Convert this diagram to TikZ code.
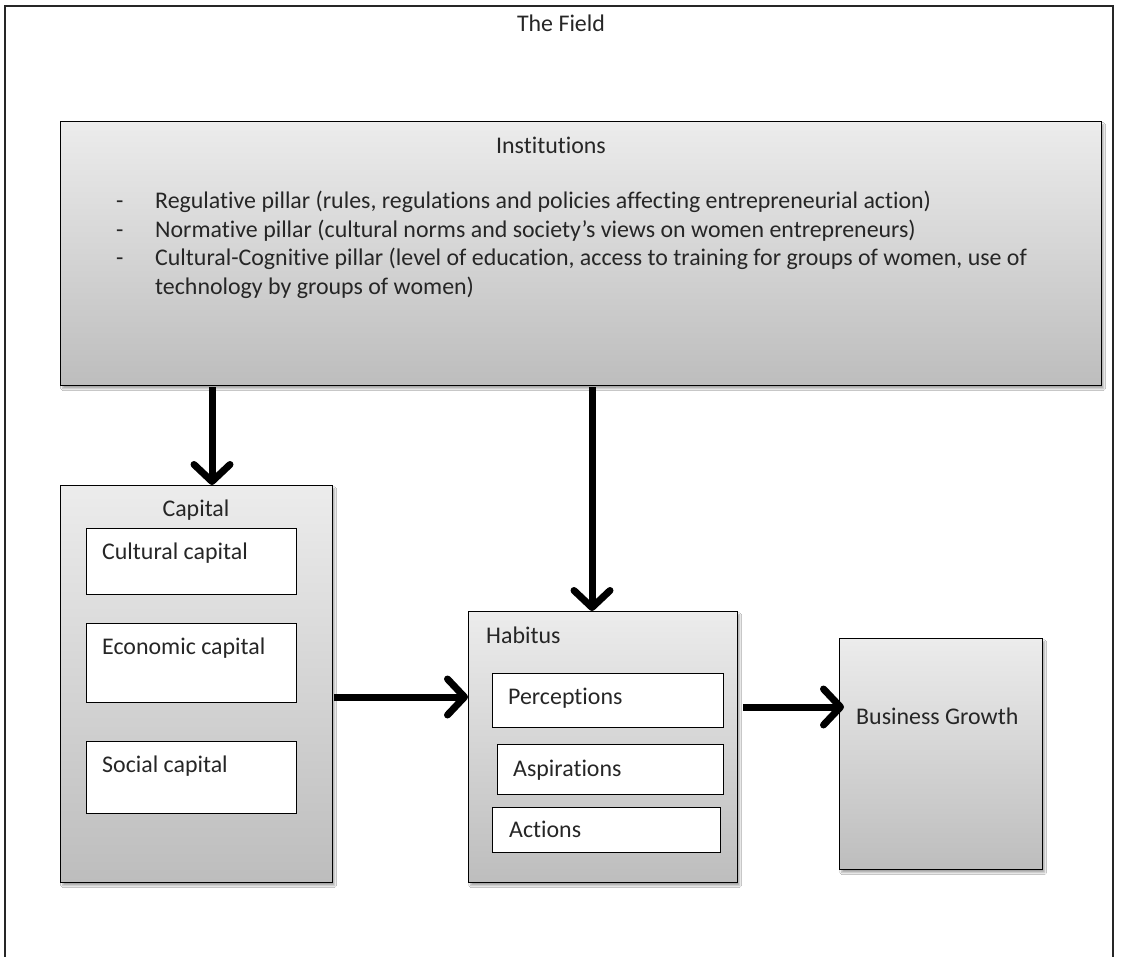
\documentclass[tikz,border=0pt]{standalone}
\usepackage{fontspec}
\setmainfont{Carlito}[Ligatures=NoCommon]
\usetikzlibrary{arrows.meta,shadows.blur}
\definecolor{ink}{HTML}{262626}
\definecolor{shadetop}{HTML}{ECECEC}
\definecolor{shadebot}{HTML}{BDBDBD}
\tikzset{
  panel/.style={draw=black, line width=1.3pt, top color=shadetop, bottom color=shadebot,
    anchor=north west, inner sep=0pt,
    blur shadow={shadow xshift=2pt, shadow yshift=-3pt, shadow opacity=35, shadow blur steps=6}},
  itembox/.style={draw=black, line width=1pt, fill=white, anchor=north west, inner sep=0pt},
  label/.style={font=\fontsize{23.9}{28.5}\selectfont, text=ink, inner sep=0pt},
  flow/.style={line width=7pt, draw=black,
    -{Straight Barb[length=17pt, width=36pt, line cap=round, line join=round]}},
  frame/.style={line width=1.6pt, draw=black!85}
}
\begin{document}
\begin{tikzpicture}[x=1pt, y=-1pt]
  \useasboundingbox (0,0) rectangle (1121,957);
  \clip (0,0) rectangle (1121,957);
  \fill[white] (0,0) rectangle (1121,957);

  % outer field frame, open at the bottom edge
  \draw[frame] (5,980) -- (5,6) -- (1113,6) -- (1113,980);
  \node[label, anchor=base] (field) at (561,32) {The Field};

  % institutions panel
  \node[panel, minimum width=1041pt, minimum height=264pt] (inst) at (60,121) {};
  \node[label, anchor=base] (insttitle) at (551,153.5) {Institutions};
  \node[label, anchor=base west] (d1) at (116,209) {-};
  \node[label, anchor=base west] (p1) at (155,209) {Regulative pillar (rules, regulations and policies affecting entrepreneurial action)};
  \node[label, anchor=base west] (d2) at (116,237.5) {-};
  \node[label, anchor=base west] (p2) at (155,237.5) {Normative pillar (cultural norms and society’s views on women entrepreneurs)};
  \node[label, anchor=base west] (d3) at (116,266) {-};
  \node[label, anchor=base west] (p3) at (155,266) {Cultural-Cognitive pillar (level of education, access to training for groups of women, use of};
  \node[label, anchor=base west] (p3b) at (155,294.5) {technology by groups of women)};

  % capital panel
  \node[panel, minimum width=272pt, minimum height=397pt] (cap) at (60,485) {};
  \node[label, anchor=base] (captitle) at (196,516) {Capital};
  \node[itembox, minimum width=210pt, minimum height=66pt] (cult) at (86,528) {};
  \node[label, anchor=base west] (culttxt) at (102,559) {Cultural capital};
  \node[itembox, minimum width=210pt, minimum height=79pt] (econ) at (86,623) {};
  \node[label, anchor=base west] (econtxt) at (102,654) {Economic capital};
  \node[itembox, minimum width=210pt, minimum height=72pt] (soc) at (86,741) {};
  \node[label, anchor=base west] (soctxt) at (102,772) {Social capital};

  % habitus panel
  \node[panel, minimum width=269pt, minimum height=271pt] (hab) at (468,611) {};
  \node[label, anchor=base west] (habtitle) at (486,643) {Habitus};
  \node[itembox, minimum width=231pt, minimum height=54pt] (perc) at (492,673) {};
  \node[label, anchor=base west] (perctxt) at (508,704) {Perceptions};
  \node[itembox, minimum width=226pt, minimum height=50pt] (asp) at (497,744) {};
  \node[label, anchor=base west] (asptxt) at (513,776) {Aspirations};
  \node[itembox, minimum width=228pt, minimum height=45pt] (act) at (492,807) {};
  \node[label, anchor=base west] (acttxt) at (509,837) {Actions};

  % outcome panel
  \node[panel, minimum width=203pt, minimum height=231pt] (growth) at (839,638) {};
  \node[label, anchor=base west] (growthtxt) at (856,724) {Business Growth};

  % connectors
  \coordinate (colA) at (212,0);
  \coordinate (colB) at (592,0);
  \coordinate (rowA) at (0,697);
  \coordinate (rowB) at (0,707);
  \draw[flow, shorten <=1pt] (inst.south -| colA) -- (cap.north -| colA);
  \draw[flow, shorten <=1pt] (inst.south -| colB) -- (hab.north -| colB);
  \draw[flow, shorten <=1pt] (cap.east |- rowA) -- (hab.west |- rowA);
  \draw[flow, shorten <=5pt, shorten >=-5pt] (hab.east |- rowB) -- (growth.west |- rowB);
\end{tikzpicture}
\end{document}
